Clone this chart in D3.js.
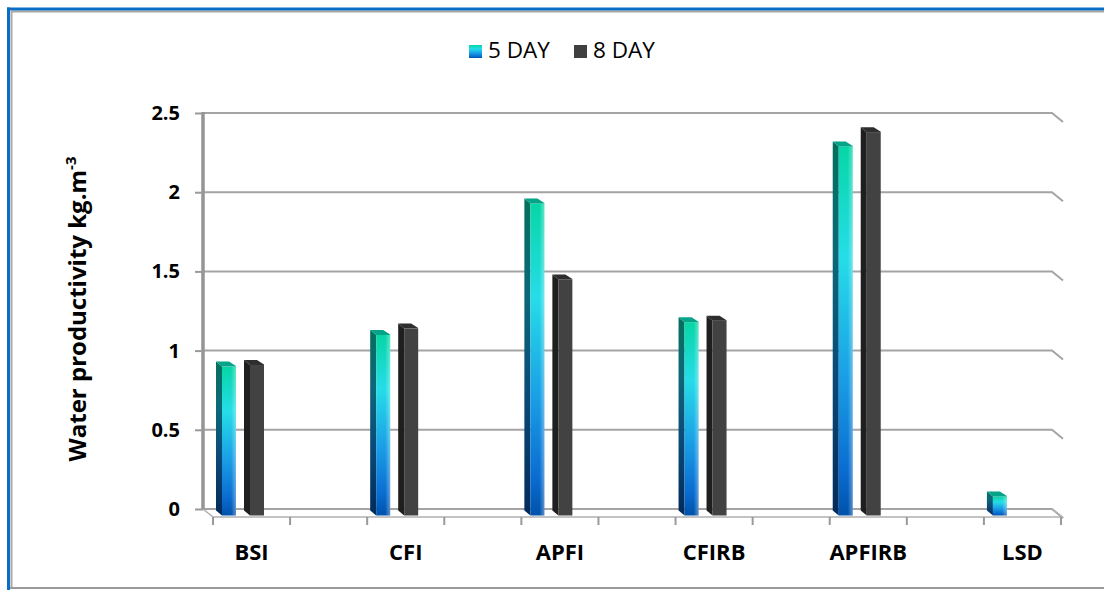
<!DOCTYPE html>
<html>
<head>
<meta charset="utf-8">
<script src="https://cdn.jsdelivr.net/npm/d3@7"></script>
<style>
  html, body { margin: 0; padding: 0; background: #fff; }
  svg { display: block; font-family: "Open Sans", "Noto Sans", sans-serif; }
</style>
</head>
<body>
<svg id="chart" width="1104" height="590"></svg>
<script>
// ---- data ----
const categories = ["BSI", "CFI", "APFI", "CFIRB", "APFIRB", "LSD"];
const series = ["5 DAY", "8 DAY"];
const day5 = [0.94, 1.14, 1.97, 1.22, 2.33, 0.12];
const day8 = [0.95, 1.18, 1.49, 1.23, 2.42, null];
const yTicks = [0, 0.5, 1, 1.5, 2, 2.5];
const yTitle = "Water productivity kg.m";
const yTitleSup = "-3";

// ---- layout ----
const W = 1104, H = 590;
const wall = { left: 203, right: 1052, top: 113, bottom: 509 };
const depth = { dx: 10, dy: 8 };       // back wall -> front edge of floor
const barDepth = { dx: 6, dy: 5 };     // front face -> back face of a column
const barShift = 6.5;                   // columns stand mid-way on the floor

const svg = d3.select("#chart");
const defs = svg.append("defs");

function vGrad(id, stops) {
  const g = defs.append("linearGradient").attr("id", id)
    .attr("x1", 0).attr("y1", 0).attr("x2", 0).attr("y2", 1);
  stops.forEach(([o, c, a]) => g.append("stop").attr("offset", o)
    .attr("stop-color", c).attr("stop-opacity", a == null ? 1 : a));
}
vGrad("g5front", [["0%", "#06d6a6"], ["30%", "#26dde8"], ["62%", "#1a9fe6"], ["88%", "#0a6cd0"], ["100%", "#0052aa"]]);
vGrad("g5side", [["0%", "#05705c"], ["30%", "#0c6878"], ["62%", "#0a4a78"], ["100%", "#022a5a"]]);
const hl = defs.append("linearGradient").attr("id", "hl")
  .attr("x1", 0).attr("y1", 0).attr("x2", 1).attr("y2", 0);
hl.append("stop").attr("offset", "0%").attr("stop-color", "#fff").attr("stop-opacity", 0);
hl.append("stop").attr("offset", "65%").attr("stop-color", "#fff").attr("stop-opacity", 0);
hl.append("stop").attr("offset", "100%").attr("stop-color", "#fff").attr("stop-opacity", 0.35);

const seriesStyle = {
  "5 DAY": { front: "url(#g5front)", side: "url(#g5side)", top: "#05a488", legend: "url(#g5front)" },
  "8 DAY": { front: "#424242", side: "#1f1f1f", top: "#2e2e2e", legend: "#404040" }
};

// ---- frame ----
svg.append("rect").attr("width", W).attr("height", H).attr("fill", "#fff");
svg.append("line").attr("x1", 11.5).attr("x2", W).attr("y1", 11.5).attr("y2", 11.5)
  .attr("stroke", "#a8a8a8").attr("stroke-width", 2);
svg.append("line").attr("x1", 11.5).attr("x2", 11.5).attr("y1", 11).attr("y2", 588)
  .attr("stroke", "#a8a8a8").attr("stroke-width", 2);
svg.append("line").attr("x1", 10).attr("x2", W).attr("y1", 588).attr("y2", 588)
  .attr("stroke", "#9a9a9a").attr("stroke-width", 2);
svg.append("line").attr("x1", 7).attr("x2", W).attr("y1", 9).attr("y2", 9)
  .attr("stroke", "#0a6ec4").attr("stroke-width", 3);
svg.append("line").attr("x1", 8.5).attr("x2", 8.5).attr("y1", 7.5).attr("y2", H)
  .attr("stroke", "#0a6ec4").attr("stroke-width", 3);

// ---- scales ----
const y = d3.scaleLinear().domain([0, 2.5]).range([wall.bottom, wall.top]);
const x = d3.scaleBand().domain(categories)
  .range([wall.left + depth.dx, wall.right + depth.dx - 1])
  .paddingInner(0.5).paddingOuter(0);
const x1 = d3.scaleBand().domain(series).range([9, 51]).paddingInner(0.5).paddingOuter(0);

// ---- back wall gridlines with the right-hand depth stub ----
const grid = svg.append("g").attr("fill", "none").attr("stroke", "#a4a4a4").attr("stroke-width", 2);
yTicks.forEach(t => {
  grid.append("path").attr("d", d3.line()([
    [wall.left, y(t)], [wall.right, y(t)], [wall.right + depth.dx + 1, y(t) + depth.dy + 1]
  ]));
});
// floor
grid.append("path").attr("stroke", "#b0b0b0").attr("stroke-width", 1.6).attr("d", d3.line()([
  [wall.left, wall.bottom], [wall.left + depth.dx, wall.bottom + depth.dy],
  [wall.right + depth.dx, wall.bottom + depth.dy], [wall.right, wall.bottom]
]));
// left wall edge
svg.append("line").attr("x1", wall.left).attr("x2", wall.left)
  .attr("y1", wall.top - 1).attr("y2", wall.bottom)
  .attr("stroke", "#959595").attr("stroke-width", 3.5);

// ---- y axis ----
const yAxis = svg.append("g").attr("transform", `translate(${wall.left},0)`)
  .call(d3.axisLeft(y).tickValues(yTicks).tickSize(8).tickPadding(15).tickFormat(d3.format("")));
yAxis.select(".domain").remove();
yAxis.selectAll(".tick line").attr("stroke", "#999").attr("stroke-width", 2);
yAxis.selectAll(".tick text").attr("fill", "#000").attr("font-size", 20).attr("font-weight", 700)
  .attr("font-family", '"Open Sans", sans-serif');

// ---- x axis ----
const xAxis = svg.append("g").attr("transform", `translate(0,${wall.bottom + depth.dy})`)
  .call(d3.axisBottom(x).tickSize(0).tickPadding(27));
xAxis.select(".domain").remove();
xAxis.selectAll(".tick text").attr("fill", "#000").attr("font-size", 22).attr("font-weight", 700)
  .attr("font-family", '"Open Sans", sans-serif');
// category divisions along the front edge of the floor
const edges = [];
categories.forEach(c => { edges.push(x(c)); edges.push(x(c) + x.bandwidth()); });
svg.append("g").selectAll("line").data(edges).join("line")
  .attr("x1", d => d).attr("x2", d => d)
  .attr("y1", wall.bottom + depth.dy).attr("y2", wall.bottom + depth.dy + 8)
  .attr("stroke", "#999").attr("stroke-width", 2);

// ---- columns ----
const bars = [];
categories.forEach((c, i) => {
  [[series[0], day5[i]], [series[1], day8[i]]].forEach(([s, v]) => {
    if (v == null) return;
    bars.push({ c, s, v });
  });
});
const base = y(0) + barShift;
const gBars = svg.append("g");
bars.forEach(b => {
  const st = seriesStyle[b.s];
  const fx = x(b.c) + x1(b.s);
  const fw = x1.bandwidth();
  const top = y(b.v) + barShift;
  const { dx, dy } = barDepth;
  const g = gBars.append("g");
  // side face
  g.append("path").attr("fill", st.side).attr("d", d3.line()([
    [fx - dx, top - dy], [fx, top], [fx, base], [fx - dx, base - dy]
  ]) + "Z");
  // front face
  g.append("rect").attr("x", fx).attr("y", top).attr("width", fw).attr("height", base - top)
    .attr("fill", st.front);
  if (b.s === series[0]) {
    g.append("rect").attr("x", fx).attr("y", top).attr("width", fw).attr("height", base - top)
      .attr("fill", "url(#hl)");
  }
  // top face
  g.append("path").attr("fill", st.top).attr("d", d3.line()([
    [fx - dx, top - dy], [fx + fw - dx - 1, top - dy], [fx + fw, top - 0.5], [fx + fw, top], [fx, top]
  ]) + "Z");
});

// ---- legend ----
const legend = svg.append("g");
const legendX = [469, 574];
series.forEach((s, i) => {
  legend.append("rect").attr("x", legendX[i]).attr("y", 45).attr("width", 13).attr("height", 13)
    .attr("fill", seriesStyle[s].legend);
  legend.append("text").attr("x", legendX[i] + 19).attr("y", 58)
    .attr("font-size", 22.5).attr("fill", "#000").text(s);
});

// ---- y title ----
const title = svg.append("text")
  .attr("transform", `translate(86,309) rotate(-90)`)
  .attr("text-anchor", "middle").attr("font-size", 24).attr("font-weight", 700).attr("fill", "#000");
title.append("tspan").text(yTitle);
title.append("tspan").attr("font-size", 15).attr("dy", -10).text(yTitleSup);
</script>
</body>
</html>
